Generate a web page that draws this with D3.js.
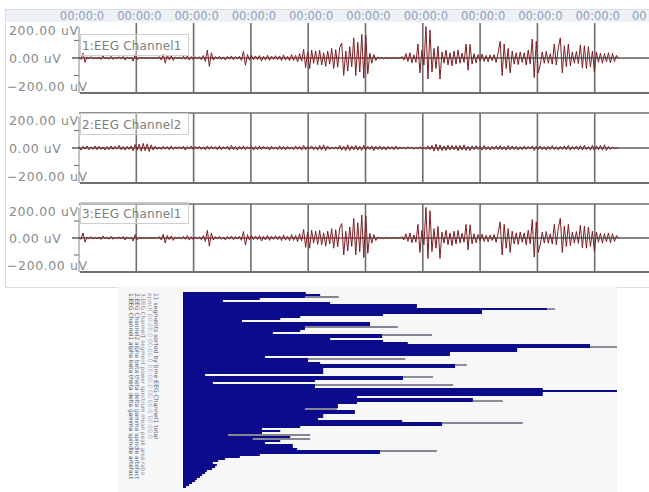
<!DOCTYPE html>
<html>
<head>
<meta charset="utf-8">
<script src="https://cdn.jsdelivr.net/npm/d3@7"></script>
<style>
  html, body { margin: 0; padding: 0; background: #ffffff; }
  svg { display: block; }
</style>
</head>
<body>
<svg id="chart" width="649" height="492"></svg>
<script>
// ---- EEG recordings: one sample every 0.035 time divisions, in µV ----
const channel1 = [
  5, -8, 30, -25, 6, -4, 8, -6, 3, -5,
  6, -9, 12, -5, 4, -7, 10, -8, 5, -4,
  7, -6, 9, -12, 6, -5, 4, -18, 20, -10,
  3, -2, 2, -3, 2, -2, 3, -2, 2, -3,
  8, -12, 22, -30, 15, -10, 12, -14, 6, -4,
  5, -6, 10, -8, 14, -12, 8, -10, 6, -5,
  7, -10, 14, -20, 45, -48, 30, -12, 8, -6,
  10, -8, 6, -12, 9, -7, 12, -10, 8, -6,
  10, -14, 38, -42, 20, -12, 15, -10, 12, -9,
  14, -18, 10, -12, 16, -14, 11, -8, 13, -10,
  12, -15, 18, -12, 10, -16, 20, -14, 15, -22,
  25, -18, 50, -55, 35, -60, 45, -30, 40, -38,
  45, -40, 30, -48, 40, -35, 55, -60, 48, -52,
  60, 85, -100, 40, -75, 65, -50, 115, -100, 90,
  -80, 135, -115, 130, -90, 28, -30, 20, -15, 6,
  -4, 3, -5, 4, -3, 2, -3, 4, -2, 3,
  -4, 8, -12, 25, -20, 30, -28, 18, -25, 80,
  -85, 45, -40, 180, -120, 160, -80, 55, -60, 68,
  -120, 35, -30, 45, -40, 30, -45, 40, -35, 45,
  -30, 28, -25, 80, -70, 78, -35, 25, -28, 20,
  -18, 22, -20, 15, -22, 18, -15, 20, -25, 30,
  95, -100, 80, -60, 55, -85, 40, -35, 30, -38,
  35, -25, 30, -40, 45, -35, 108, -112, 95, -85,
  -40, 35, -30, 38, -30, 25, -35, 80, -40, 60,
  115, -85, 70, -50, 80, -45, 35, -30, 38, -32,
  75, -58, 70, -60, 65, -50, 40, -80, 35, -25,
  28, -30, 25, -22, 30, -28, 25, -20, 15, 0
];
const channel2 = [
  8, -12, 10, -6, 12, -10, 6, -8, 12, -10,
  10, -8, 6, -12, 8, -10, 12, -8, 10, -6,
  15, -10, 8, -12, 10, -8, 12, -16, 20, -12,
  22, -18, 26, -15, 24, -20, 18, -12, 10, -8,
  6, -8, 10, -6, 8, -10, 12, -8, 6, -4,
  8, -6, 10, -12, 8, -6, 12, -10, 8, -6,
  10, -8, 6, -10, 12, -8, 10, -6, 8, -10,
  12, -10, 8, -6, 10, -12, 15, -10, 8, -12,
  10, -8, 12, -10, 8, -6, 10, -12, 8, -10,
  12, -8, 10, -6, 8, -12, 10, -8, 6, -10,
  12, -10, 8, -12, 10, -8, 6, -10, 12, -8,
  10, -12, 15, -10, 8, -6, 12, -10, 8, -12,
  15, -12, 18, -15, 12, -8, 4, -4, 6, -8,
  15, -12, 10, -15, 18, -14, 12, -10, 15, -12,
  10, -14, 16, -12, 10, -8, 12, -15, 10, -8,
  12, -10, 8, -12, 10, -6, 8, -10, 12, -8,
  6, -4, 4, -6, 8, -4, 6, -8, 4, -6,
  8, -6, 4, -8, 12, -10, 15, -18, 22, -15,
  18, -15, 12, -14, 16, -12, 15, -10, 14, -16,
  15, -12, 18, -14, 10, -15, 12, -10, 14, -8,
  10, -12, 15, -10, 8, -12, 10, -8, 12, -10,
  14, -10, 8, -12, 15, -10, 12, -8, 10, -12,
  8, -10, 12, -8, 10, -6, 12, -14, 10, -8,
  12, -10, 8, -12, 10, -8, 14, -10, 8, -12,
  10, -8, 12, -10, 15, -12, 10, -8, 12, -10,
  14, -12, 16, -10, 8, -12, 15, -14, 12, -10,
  15, -12, 18, -14, 10, -8, 6, -4, 2, 0
];
const sampleStep = 0.035;                       // time divisions per sample
const channelNames = ["1:EEG Channel1", "2:EEG Channel2", "3:EEG Channel1"];
const channelData = [channel1, channel2, channel1];
// the last division label sits at the right border, only its first digits fit
const timeLabels = ["00:00:0", "00:00:0", "00:00:0", "00:00:0", "00:00:0", "00:00:0",
                    "00:00:0", "00:00:0", "00:00:0", "00:00:0", "00"];
const amplitudeLabels = [200, 0, -200];
const amplitudeMinor = [100, -100];

// ---- segment summary: bar length and upper extent (0–100) ----
const barValues = [
  28.3, 31.6, 28.1, 17.7, 9.2, 33.9, 53.9, 53.9, 83.9, 68.9,
  68.9, 46.1, 27.0, 22.4, 13.6, 43.1, 43.1, 28.1, 28.1, 27.0,
  20.7, 45.9, 45.9, 33.9, 46.1, 51.8, 93.8, 93.8, 77.0, 77.0,
  61.5, 61.5, 18.9, 28.8, 28.8, 31.6, 62.7, 62.7, 32.3, 32.3,
  32.3, 5.1, 50.7, 50.7, 30.4, 6.9, 30.4, 30.4, 82.9, 100,
  82.9, 82.9, 40.1, 66.8, 66.8, 40.1, 35.7, 35.7, 28.1, 39.6,
  39.6, 32.3, 32.3, 31.1, 50.5, 59.7, 59.7, 27.0, 18.2, 22.4,
  18.2, 10.4, 24.7, 16.1, 22.4, 18.9, 25.3, 25.3, 26.3, 45.4,
  45.4, 17.7, 13.1, 9.7, 8.1, 6.9, 7.8, 7.4, 6.7, 5.5,
  5.1, 4.4, 3.9, 3.2, 2.8, 2.1, 1.4, 0.7
];
const barExtent = [
  null, null, 35.9, null, null, null, null, null, 85.7, null,
  null, null, null, null, null, null, null, 49.5, null, null,
  null, 57.4, null, null, null, null, null, 100, null, null,
  null, null, null, 51.2, null, null, 65.4, null, null, null,
  null, null, 57.6, null, null, null, 62.2, null, null, null,
  null, null, null, null, 73.7, null, null, null, 35.5, null,
  null, null, null, null, null, 78.3, null, null, null, null,
  null, 29.3, null, 29.3, null, null, null, null, null, 58.5,
  null, null, null, null, null, null, null, null, null, null,
  null, null, null, null, null, null, null, null
];
const segments = barValues.map((_, i) => "seg " + (i + 1));
const sideLabels = [
  "1:EEG Channel1 alpha beta theta delta gamma spindle artefact",
  "2:EEG Channel2 alpha beta theta delta gamma spindle artefact",
  "3:EEG Channel1 segment power spectrum mean peak area ratio",
  "epoch 00:00:0 00:00:0 00:00:0 00:00:0 00:00:0",
  "11 segments sorted by time EEG Channel1 total"
];

// ---------------------------------------------------------------------
const svg = d3.select("#chart");
const FONT = "DejaVu Sans, Verdana, sans-serif";

// time axis shared by the three channel strips
const timeX = d3.scaleLinear().domain([0, 10]).range([79, 652]);
const strips = [
  { top: 23, bottom: 93, label: 45 },
  { top: 113, bottom: 183, label: 124 },
  { top: 204, bottom: 272, label: 213 }
];

// outer frame of the viewer and the time header strip
svg.append("rect").attr("x", 5.5).attr("y", 9.5).attr("width", 660).attr("height", 278)
  .attr("fill", "none").attr("stroke", "#dcdcdc");
svg.append("rect").attr("x", 6).attr("y", 10).attr("width", 643).attr("height", 12)
  .attr("fill", "#eef1f6");

svg.append("g").selectAll("text").data(timeLabels).join("text")
  .attr("x", (d, i) => i === timeLabels.length - 1 ? timeX(i) - 20 : timeX(i) + 3)
  .attr("y", 20)
  .attr("text-anchor", (d, i) => i === timeLabels.length - 1 ? "start" : "middle")
  .attr("font-family", FONT).attr("font-size", 11.5)
  .attr("fill", "#8d9cbc")
  .text(d => d);

strips.forEach((s, ci) => {
  const y = d3.scaleLinear().domain([-200, 200]).range([s.bottom, s.top]);
  const g = svg.append("g");
  const data = channelData[ci];

  // frame lines
  if (ci > 0) {
    g.append("line").attr("x1", 79).attr("x2", 649).attr("y1", s.top).attr("y2", s.top)
      .attr("stroke", "#6f6f6f").attr("stroke-width", 1.6);
  }
  g.append("line").attr("x1", 80).attr("x2", 649).attr("y1", s.bottom).attr("y2", s.bottom)
    .attr("stroke", "#6f6f6f").attr("stroke-width", 2);

  // vertical time divisions
  g.selectAll("line.grid").data(d3.range(1, 10)).join("line").attr("class", "grid")
    .attr("x1", d => timeX(d)).attr("x2", d => timeX(d))
    .attr("y1", s.top).attr("y2", s.bottom)
    .attr("stroke", "#6f6f6f").attr("stroke-width", 1.6);

  // amplitude axis
  g.append("line").attr("x1", 79).attr("x2", 79).attr("y1", s.top + 4).attr("y2", s.bottom)
    .attr("stroke", "#8a8a8a").attr("stroke-width", 1);
  g.selectAll("line.minor").data(amplitudeMinor).join("line").attr("class", "minor")
    .attr("x1", 74).attr("x2", 79).attr("y1", d => y(d)).attr("y2", d => y(d))
    .attr("stroke", "#7a7a7a").attr("stroke-width", 1.2);

  // zero line
  g.append("line").attr("x1", 72).attr("x2", 649).attr("y1", y(0)).attr("y2", y(0))
    .attr("stroke", "#5c5c5c").attr("stroke-width", 1.3);

  // trace
  const line = d3.line()
    .x((d, i) => timeX(i * sampleStep))
    .y(d => y(d));
  g.append("path").datum(data).attr("d", line)
    .attr("fill", "none").attr("stroke", "#7c1e22").attr("stroke-width", 1)
    .attr("stroke-linejoin", "round");

  // channel label box
  g.append("rect").attr("x", 80.5).attr("y", s.label - 10.5).attr("width", 108).attr("height", 21)
    .attr("fill", "#ffffff").attr("fill-opacity", 0.35)
    .attr("stroke", "#cfcfcf").attr("stroke-width", 1);
  g.append("text").attr("x", 82).attr("y", s.label + 4.5)
    .attr("font-family", FONT).attr("font-size", 12).attr("letter-spacing", 0.2)
    .attr("fill", "#7d7d7d")
    .text(channelNames[ci]);

  // amplitude labels
  g.selectAll("text.amp").data(amplitudeLabels).join("text").attr("class", "amp")
    .attr("x", d => d < 0 ? 7 : 9)
    .attr("y", d => d > 0 ? y(d) + 11.5 : d < 0 ? y(d) - 2 : y(d) + 4.5)
    .attr("font-family", FONT).attr("font-size", 12.5).attr("letter-spacing", 0.6)
    .attr("fill", "#8a8a8a")
    .text(d => d3.format(".2f")(d) + " uV");
});

// ---- horizontal bar summary ----
const bx = d3.scaleLinear().domain([0, 100]).range([183, 617]);
const by = d3.scaleBand().domain(segments).range([292, 488]);

svg.append("rect").attr("x", 118).attr("y", 286).attr("width", 499).attr("height", 206)
  .attr("fill", "#f7f7f7");

svg.append("g").selectAll("rect").data(barValues).join("rect")
  .attr("x", bx(0))
  .attr("y", (d, i) => by(segments[i]))
  .attr("width", d => bx(d) - bx(0))
  .attr("height", by.bandwidth())
  .attr("fill", "#0b0b8c");

svg.append("g").selectAll("line")
  .data(barExtent.map((e, i) => ({ e, v: barValues[i], s: segments[i] })).filter(d => d.e !== null))
  .join("line")
  .attr("x1", d => bx(d.v)).attr("x2", d => bx(d.e))
  .attr("y1", d => by(d.s) + by.bandwidth() / 2).attr("y2", d => by(d.s) + by.bandwidth() / 2)
  .attr("stroke", "#5f5f72").attr("stroke-width", 1.4);

// rotated side captions, stretched along the bar column
const sideX = [129, 135, 141, 148, 154];
const sideLen = [186, 186, 182, 146, 146];
const sideColor = ["#3f4768", "#52609a", "#7f88a0", "#9aa0b0", "#5a5e70"];
svg.append("g").selectAll("text").data(sideLabels).join("text")
  .attr("transform", (d, i) => `translate(${sideX[i]},293) rotate(90)`)
  .attr("font-family", FONT).attr("font-size", 6)
  .attr("textLength", (d, i) => sideLen[i]).attr("lengthAdjust", "spacingAndGlyphs")
  .attr("fill", (d, i) => sideColor[i])
  .text(d => d);
</script>
</body>
</html>
